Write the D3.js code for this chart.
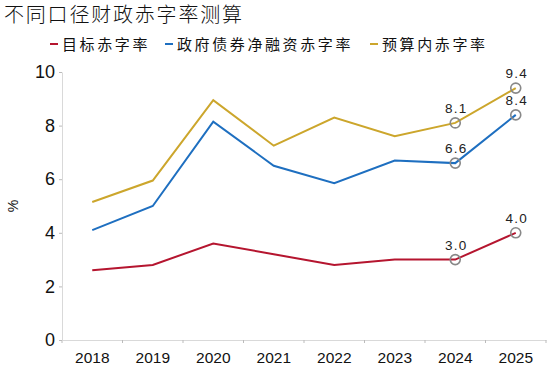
<!DOCTYPE html>
<html><head><meta charset="utf-8">
<script src="https://cdn.jsdelivr.net/npm/d3@7"></script>
<style>body{margin:0;background:#fff}svg{display:block}</style>
</head><body>
<svg id="c" width="550" height="367"></svg>
<script>
const years = ["2018","2019","2020","2021","2022","2023","2024","2025"];
const targetRate = [2.6, 2.8, 3.6, 3.2, 2.8, 3.0, 3.0, 4.0];
const govDebtRate = [4.1, 5.0, 8.15, 6.5, 5.85, 6.7, 6.6, 8.4];
const budgetRate = [5.15, 5.95, 8.95, 7.25, 8.3, 7.6, 8.1, 9.4];
const yTicks = [0, 2, 4, 6, 8, 10];
const seriesNames = ["目标赤字率", "政府债券净融资赤字率", "预算内赤字率"];
const seriesColors = ["#B5152F", "#1E6FC0", "#CCA62C"];
const labeled = ["2024", "2025"];

const svg = d3.select("#c");
const fontCJK = "'Noto Sans CJK SC', sans-serif";
const fontNum = "'Liberation Sans', Arial, sans-serif";

const x = d3.scaleBand().domain(years).range([62, 546]);
const y = d3.scaleLinear().domain([0, 10]).range([340, 72]);

// title
svg.append("text").attr("x", 4).attr("y", 22).attr("font-family", fontCJK)
  .attr("font-size", 20).attr("font-weight", 300).attr("fill", "#111").attr("letter-spacing", 1.8).text("不同口径财政赤字率测算");

// legend
const legX = [50, 165, 370];
seriesNames.forEach((n, i) => {
  svg.append("line").attr("x1", legX[i]).attr("x2", legX[i] + 8).attr("y1", 44).attr("y2", 44)
    .attr("stroke", seriesColors[i]).attr("stroke-width", 2);
  svg.append("text").attr("x", legX[i] + 12).attr("y", 50).attr("font-family", fontCJK)
    .attr("font-size", 15).attr("letter-spacing", 2.6).attr("fill", "#111").text(n);
});

// axes
const gx = svg.append("g").attr("transform", "translate(0,340)")
  .call(d3.axisBottom(x).tickSize(4).tickSizeOuter(0));
gx.select(".domain").attr("stroke", "#d9d9d9");
gx.selectAll(".tick line").remove();
years.forEach(yr => {
  gx.append("line").attr("x1", x(yr)).attr("x2", x(yr)).attr("y1", 0).attr("y2", 3).attr("stroke", "#bbb");
});
gx.append("line").attr("x1", 546).attr("x2", 546).attr("y1", 0).attr("y2", 3).attr("stroke", "#bbb");
gx.selectAll(".tick text").attr("font-family", fontNum).attr("font-size", 15.5).attr("fill", "#111").attr("dy", "1.05em");

const gy = svg.append("g").attr("transform", "translate(62,0)")
  .call(d3.axisLeft(y).tickValues(yTicks).tickSize(3).tickSizeOuter(0));
gy.select(".domain").attr("stroke", "#d9d9d9");
gy.selectAll(".tick line").attr("stroke", "#bbb");
gy.selectAll(".tick text").attr("font-family", fontNum).attr("font-size", 18).attr("fill", "#111").attr("x", -7);

svg.append("text").attr("transform", "translate(18,206) rotate(-90)").attr("text-anchor", "middle")
  .attr("font-family", fontNum).attr("font-size", 14).attr("fill", "#111").text("%");

// lines
const allSeries = [targetRate, govDebtRate, budgetRate];
const line = d3.line().x((d, i) => x(years[i]) + x.bandwidth() / 2).y(d => y(d));
allSeries.forEach((s, i) => {
  svg.append("path").datum(s).attr("d", line).attr("fill", "none")
    .attr("stroke", seriesColors[i]).attr("stroke-width", 2);
});

// markers and labels
allSeries.forEach((s, i) => {
  labeled.forEach(yr => {
    const idx = years.indexOf(yr);
    const cx = x(yr) + x.bandwidth() / 2, cy = y(s[idx]);
    svg.append("circle").attr("cx", cx).attr("cy", cy).attr("r", 5)
      .attr("fill", "none").attr("stroke", "#888").attr("stroke-width", 1.6);
    svg.append("text").attr("x", cx + 1).attr("y", cy - 10).attr("text-anchor", "middle")
      .attr("font-family", fontNum).attr("font-size", 13.5).attr("letter-spacing", 1.2)
      .attr("fill", "#222").text(s[idx].toFixed(1));
  });
});
</script>
</body></html>
